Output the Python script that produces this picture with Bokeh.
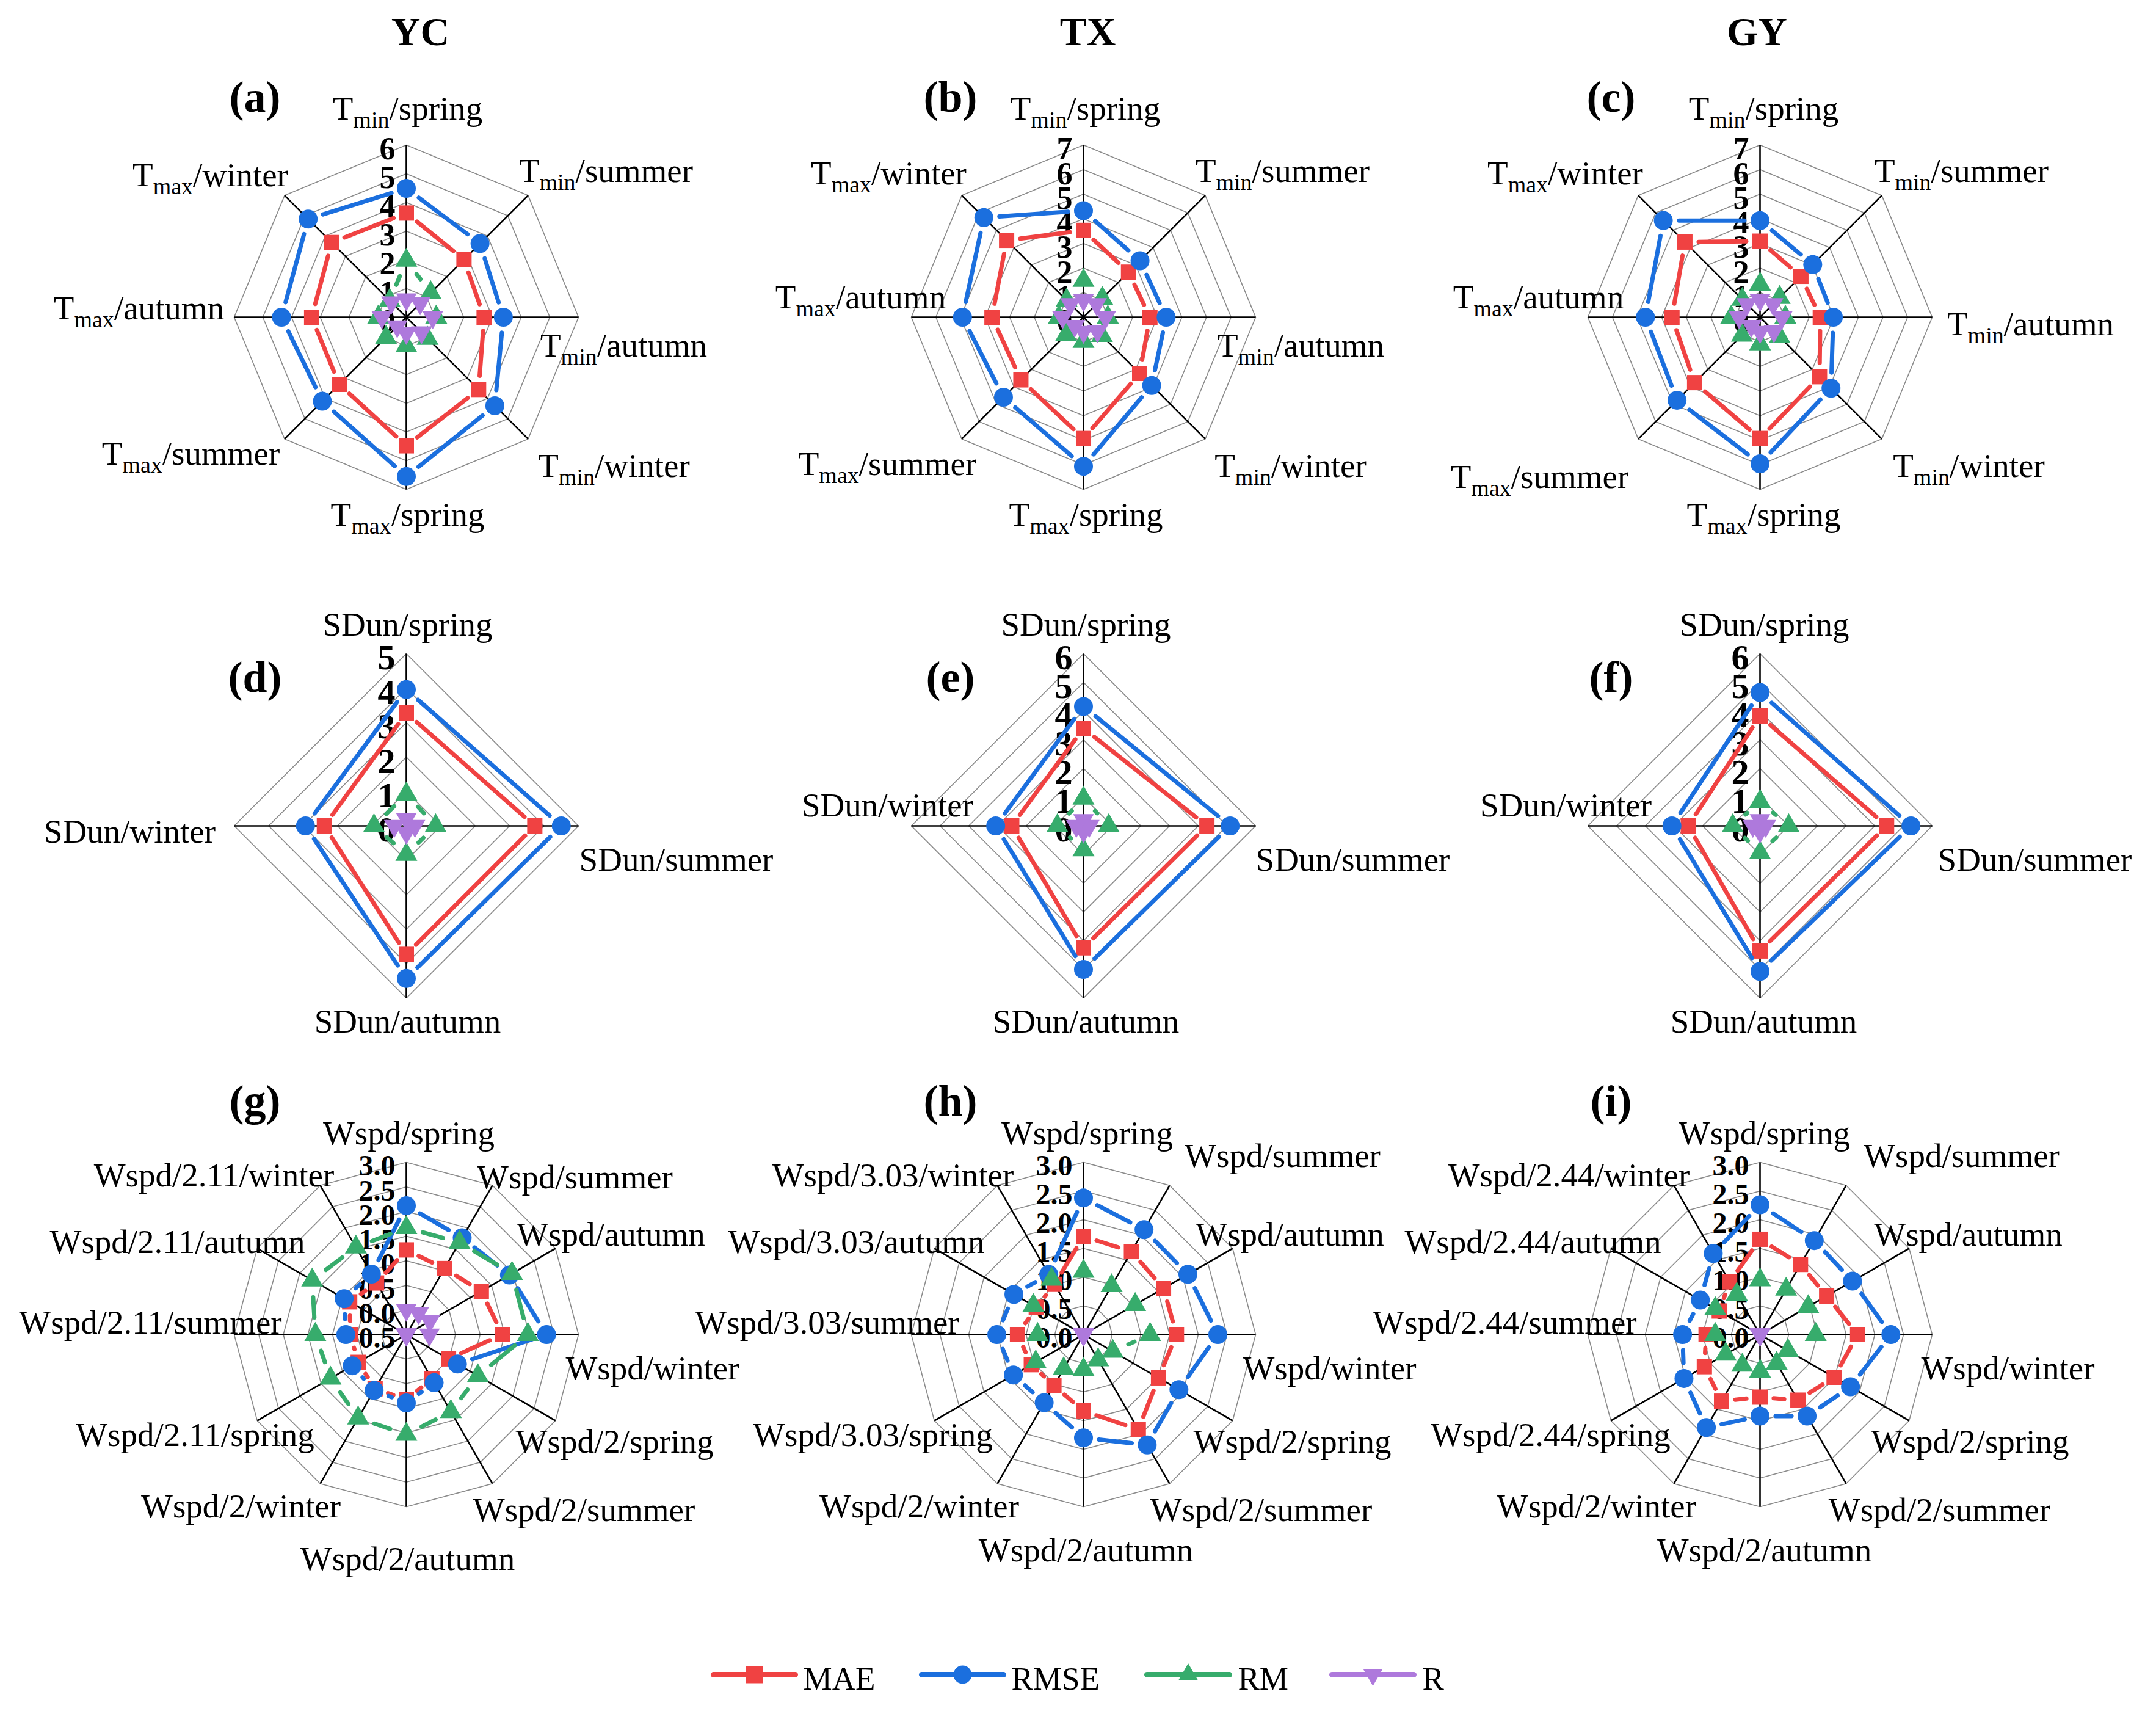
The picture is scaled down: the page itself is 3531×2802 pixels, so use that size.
import math
import numpy as np
from bokeh.plotting import figure
from bokeh.models import Range1d
from bokeh.core.properties import value
from bokeh.embed import file_html
from bokeh.resources import INLINE

# ------------------------------------------------------------------ data
SERIES = ["MAE", "RMSE", "RM", "R"]
SITES = ["YC", "TX", "GY"]
LETTERS = ["(a)", "(b)", "(c)", "(d)", "(e)", "(f)", "(g)", "(h)", "(i)"]

T_CATS = ["Tmin/spring", "Tmin/summer", "Tmin/autumn", "Tmin/winter",
          "Tmax/spring", "Tmax/summer", "Tmax/autumn", "Tmax/winter"]
SD_CATS = ["SDun/spring", "SDun/summer", "SDun/autumn", "SDun/winter"]
W_CATS_YC = ["Wspd/spring", "Wspd/summer", "Wspd/autumn", "Wspd/winter",
             "Wspd/2/spring", "Wspd/2/summer", "Wspd/2/autumn", "Wspd/2/winter",
             "Wspd/2.11/spring", "Wspd/2.11/summer", "Wspd/2.11/autumn", "Wspd/2.11/winter"]
W_CATS_TX = ["Wspd/spring", "Wspd/summer", "Wspd/autumn", "Wspd/winter",
             "Wspd/2/spring", "Wspd/2/summer", "Wspd/2/autumn", "Wspd/2/winter",
             "Wspd/3.03/spring", "Wspd/3.03/summer", "Wspd/3.03/autumn", "Wspd/3.03/winter"]
W_CATS_GY = ["Wspd/spring", "Wspd/summer", "Wspd/autumn", "Wspd/winter",
             "Wspd/2/spring", "Wspd/2/summer", "Wspd/2/autumn", "Wspd/2/winter",
             "Wspd/2.44/spring", "Wspd/2.44/summer", "Wspd/2.44/autumn", "Wspd/2.44/winter"]

# (a) YC temperature
YC_T_MAE = [3.63, 2.84, 2.71, 3.56, 4.48, 3.31, 3.30, 3.68]
YC_T_RMSE = [4.49, 3.63, 3.38, 4.36, 5.55, 4.14, 4.35, 4.84]
YC_T_RM = [1.98, 1.20, 1.04, 1.05, 1.00, 1.00, 0.98, 0.82]
YC_T_R = [0.62, 0.68, 0.92, 0.75, 0.55, 0.45, 0.85, 0.73]
# (b) TX temperature
TX_T_MAE = [3.53, 2.59, 2.70, 3.23, 4.93, 3.60, 3.72, 4.42]
TX_T_RMSE = [4.33, 3.25, 3.36, 3.92, 6.06, 4.60, 4.92, 5.73]
TX_T_RM = [1.49, 1.08, 0.99, 1.06, 0.99, 1.00, 1.00, 0.97]
TX_T_R = [0.70, 0.75, 0.90, 0.80, 0.60, 0.50, 0.85, 0.75]
# (c) GY temperature
GY_T_MAE = [3.09, 2.35, 2.45, 3.42, 4.93, 3.76, 3.58, 4.32]
GY_T_RMSE = [3.93, 3.03, 2.98, 4.08, 5.96, 4.77, 4.66, 5.56]
GY_T_RM = [1.34, 1.13, 1.03, 1.13, 1.09, 1.04, 1.17, 1.02]
GY_T_R = [0.70, 0.75, 0.90, 0.80, 0.60, 0.50, 0.85, 0.75]
# (d)-(f) sunshine duration
YC_SD_MAE = [3.28, 3.73, 3.73, 2.38]
YC_SD_RMSE = [3.96, 4.50, 4.43, 2.93]
YC_SD_RM = [0.92, 0.85, 0.83, 0.94]
YC_SD_R = [0.20, 0.25, 0.20, 0.35]
TX_SD_MAE = [3.40, 4.30, 4.25, 2.50]
TX_SD_RMSE = [4.16, 5.11, 5.00, 3.06]
TX_SD_RM = [0.96, 0.88, 0.84, 0.91]
TX_SD_R = [0.20, 0.20, 0.20, 0.25]
GY_SD_MAE = [3.83, 4.41, 4.36, 2.50]
GY_SD_RMSE = [4.65, 5.26, 5.07, 3.07]
GY_SD_RM = [0.85, 1.00, 0.94, 0.95]
GY_SD_R = [0.20, 0.20, 0.20, 0.25]
# (g)-(i) wind speed
YC_W_MAE = [1.22, 1.05, 1.26, 1.45, 0.49, 0.54, 0.82, 0.77, 0.63, 0.64, 0.83, 0.71]
YC_W_RMSE = [2.12, 1.77, 1.92, 2.35, 0.70, 0.63, 0.89, 0.81, 0.77, 0.73, 0.96, 0.92]
YC_W_RM = [1.67, 1.66, 1.98, 1.97, 1.18, 1.31, 1.53, 1.46, 1.28, 1.35, 1.71, 1.55]
YC_W_R = [0.00, 0.00, 0.05, -0.03, -0.5, -0.5, -0.5, -0.5, -0.5, -0.5, -0.5, -0.5]
TX_W_MAE = [1.71, 1.67, 1.61, 1.62, 1.51, 1.91, 1.33, 1.03, 1.05, 1.15, 0.95, 1.01]
TX_W_RMSE = [2.38, 2.11, 2.10, 2.34, 1.92, 2.22, 1.80, 1.37, 1.41, 1.51, 1.40, 1.21]
TX_W_RM = [1.10, 0.98, 1.04, 1.16, 0.59, 0.51, 0.61, 0.69, 0.96, 0.80, 1.01, 1.11]
TX_W_R = [0.0, 0.0, 0.0, 0.0, 0.0, 0.0, 0.0, 0.0, 0.0, 0.0, 0.0, 0.0]
GY_W_MAE = [1.66, 1.41, 1.34, 1.70, 1.49, 1.32, 1.09, 1.34, 1.12, 0.94, 0.82, 1.06]
GY_W_RMSE = [2.26, 1.89, 1.86, 2.28, 1.82, 1.64, 1.42, 1.87, 1.53, 1.35, 1.20, 1.63]
GY_W_RM = [0.95, 0.91, 0.97, 0.97, 0.56, 0.58, 0.64, 0.62, 0.69, 0.78, 0.90, 0.81]
GY_W_R = [0.0, 0.0, 0.0, 0.0, 0.0, 0.0, 0.0, 0.0, 0.0, 0.0, 0.0, 0.0]

# radial axis definitions: (min, max, step, label format)
AX_T6 = (0, 6, 1, "{:.0f}")
AX_T7 = (0, 7, 1, "{:.0f}")
AX_S5 = (0, 5, 1, "{:.0f}")
AX_S6 = (0, 6, 1, "{:.0f}")
AX_WN = (-0.5, 3.0, 0.5, "{:.1f}")
AX_W0 = (0.0, 3.0, 0.5, "{:.1f}")

PANELS = [
    (T_CATS, [YC_T_MAE, YC_T_RMSE, YC_T_RM, YC_T_R], AX_T6),
    (T_CATS, [TX_T_MAE, TX_T_RMSE, TX_T_RM, TX_T_R], AX_T7),
    (T_CATS, [GY_T_MAE, GY_T_RMSE, GY_T_RM, GY_T_R], AX_T7),
    (SD_CATS, [YC_SD_MAE, YC_SD_RMSE, YC_SD_RM, YC_SD_R], AX_S5),
    (SD_CATS, [TX_SD_MAE, TX_SD_RMSE, TX_SD_RM, TX_SD_R], AX_S6),
    (SD_CATS, [GY_SD_MAE, GY_SD_RMSE, GY_SD_RM, GY_SD_R], AX_S6),
    (W_CATS_YC, [YC_W_MAE, YC_W_RMSE, YC_W_RM, YC_W_R], AX_WN),
    (W_CATS_TX, [TX_W_MAE, TX_W_RMSE, TX_W_RM, TX_W_R], AX_W0),
    (W_CATS_GY, [GY_W_MAE, GY_W_RMSE, GY_W_RM, GY_W_R], AX_W0),
]

# ------------------------------------------------------------------ layout / style
OFF = 8
W, H = 3513, 2784
CX = [673, 1782, 2890]          # panel centres (screen px)
CY = [527, 1360, 2193]
RADIUS = 282                    # outer ring radius (px)
BASE_FIX = 0.22                 # em shift to put the glyph baseline where intended

# category label placement: (dx of text centre, dy of baseline) from panel centre, px
LABEL_OFFSETS = [
    [(2, -330), (327, -228), (356, 58), (340, 255), (2, 335), (-353, 235), (-438, -3), (-321, -221)],
    [(3, -330), (326, -228), (356, 58), (339, 255), (4, 335), (-321, 252), (-365, -21), (-319, -224)],
    [(6, -330), (330, -228), (443, 23), (342, 255), (6, 335), (-361, 273), (-363, -21), (-319, -224)],
    [(2, -318), (442, 67), (2, 332), (-453, 21)],
    [(4, -318), (441, 67), (4, 332), (-321, -22)],
    [(7, -318), (450, 67), (6, 332), (-318, -22)],
    [(4, -318), (276, -246), (335, -152), (403, 67), (341, 187), (291, 299), (2, 379),
     (-271, 293), (-346, 176), (-419, -8), (-375, -140), (-315, -249)],
    [(6, -318), (326, -281), (338, -152), (403, 67), (342, 187), (291, 299), (4, 365),
     (-269, 293), (-345, 176), (-420, -8), (-372, -140), (-312, -249)],
    [(7, -318), (330, -281), (341, -152), (406, 67), (344, 187), (294, 299), (7, 365),
     (-268, 293), (-343, 176), (-418, -8), (-372, -140), (-313, -249)],
]
LETTER_X = [425, 1564, 2646]
LETTER_BASE = [182, 1132, 1826]
TITLE_X = [696, 1789, 2885]
TITLE_BASE = 74
TICK_SIZES = [52, 58, 48]       # per row

STYLE = {
    "MAE": dict(color="#F04242", marker="square", size=25),
    "RMSE": dict(color="#1B6FDE", marker="circle", size=31),
    "RM": dict(color="#37AC6C", marker="triangle", size=36),
    "R": dict(color="#AE79DC", marker="inverted_triangle", size=34),
}
LINE_W = 7
FONT = value("Liberation Serif")
LAB_SIZE = 55
SUB_SIZE = 38
SUB_SHIFT = 15

# Times / Liberation Serif advance widths (em)
TW = {'T': 0.611, 'm': 0.778, 'i': 0.278, 'n': 0.5, 'a': 0.444, 'x': 0.5, '/': 0.278,
      's': 0.389, 'p': 0.5, 'r': 0.333, 'g': 0.5, 'u': 0.5, 'e': 0.444, 'w': 0.722, 't': 0.278}


def tw(s):
    return sum(TW.get(c, 0.5) for c in s)


p = figure(width=W, height=H, x_range=Range1d(0, W), y_range=Range1d(H, 0),
           output_backend="svg", toolbar_location=None,
           x_axis_location=None, y_axis_location=None, min_border=0, title=None)
p.grid.visible = False
p.outline_line_color = None
p.background_fill_color = "white"
p.border_fill_color = "white"

xr, yr = {}, {}
for idx in range(9):
    row, col = divmod(idx, 3)
    vmin, vmax, step, fmt = PANELS[idx][2]
    k = (vmax - vmin) / RADIUS
    cx = CX[col] - OFF
    cy = CY[row] - OFF
    xr[f"p{idx}"] = Range1d(-cx * k, (W - cx) * k)
    yr[f"p{idx}"] = Range1d(-(H - cy) * k, cy * k)
p.extra_x_ranges = xr
p.extra_y_ranges = yr

main_txt = dict(x=[], y=[], text=[], align=[])
sub_txt = dict(x=[], y=[], text=[])

for idx in range(9):
    row, col = divmod(idx, 3)
    cats, vals, (vmin, vmax, step, fmt) = PANELS[idx]
    name = f"p{idx}"
    kw = dict(x_range_name=name, y_range_name=name)
    k = (vmax - vmin) / RADIUS
    n = len(cats)
    th = np.arange(n) * 2 * np.pi / n
    sx, sy = np.sin(th), np.cos(th)
    ticks = [vmin + i * step for i in range(int(round((vmax - vmin) / step)) + 1)]

    # rings
    rx, ry = [], []
    for t in ticks[1:]:
        r = t - vmin
        rx.append(list(r * sx) + [r * sx[0]])
        ry.append(list(r * sy) + [r * sy[0]])
    p.multi_line(xs=rx, ys=ry, line_color="#8a8a8a", line_width=1.6, **kw)
    # spokes
    D = vmax - vmin
    p.segment(x0=[0] * n, y0=[0] * n, x1=list(D * sx), y1=list(D * sy),
              line_color="black", line_width=2.6, **kw)
    # radial tick labels
    ts = TICK_SIZES[row]
    p.text(x=[-18 * k] * len(ticks),
           y=[t - vmin - (0.34 - BASE_FIX) * ts * k for t in ticks],
           text=[fmt.format(t) for t in ticks], text_align="right", text_baseline="alphabetic",
           text_font=FONT, text_font_style="bold", text_font_size=value(f"{ts}px"),
           text_color="black", **kw)

    # series
    for sname, v in zip(SERIES, vals):
        st = STYLE[sname]
        r = np.array(v, dtype=float) - vmin
        x, y = r * sx, r * sy
        trim = (st["size"] / 2 + 10) * k
        x0, y0, x1, y1 = [], [], [], []
        for i in range(n):
            j = (i + 1) % n
            dx, dy = x[j] - x[i], y[j] - y[i]
            L = math.hypot(dx, dy)
            if L > 2 * trim + 2 * k:
                ux, uy = dx / L, dy / L
                x0.append(x[i] + ux * trim)
                y0.append(y[i] + uy * trim)
                x1.append(x[j] - ux * trim)
                y1.append(y[j] - uy * trim)
        if x0:
            p.segment(x0=x0, y0=y0, x1=x1, y1=y1, line_color=st["color"],
                      line_width=LINE_W, line_cap="round", **kw)
        p.scatter(x=list(x), y=list(y), marker=st["marker"], size=st["size"],
                  fill_color=st["color"], line_color=None, **kw)

    # category labels (page coords)
    pcx, pcy = CX[col] - OFF, CY[row] - OFF
    for cat, (dx, dy) in zip(cats, LABEL_OFFSETS[idx]):
        bx, by = pcx + dx, pcy + dy - BASE_FIX * LAB_SIZE
        if cat.startswith("Tmin") or cat.startswith("Tmax"):
            sub, rest = cat[1:4], cat[4:]
            total = LAB_SIZE * tw("T") + SUB_SIZE * tw(sub) + LAB_SIZE * tw(rest)
            x0 = bx - total / 2
            main_txt["x"].append(x0); main_txt["y"].append(by)
            main_txt["text"].append("T"); main_txt["align"].append("left")
            xs = x0 + LAB_SIZE * tw("T")
            sub_txt["x"].append(xs)
            sub_txt["y"].append(by + SUB_SHIFT + BASE_FIX * (LAB_SIZE - SUB_SIZE))
            sub_txt["text"].append(sub)
            xr2 = xs + SUB_SIZE * tw(sub)
            main_txt["x"].append(xr2); main_txt["y"].append(by)
            main_txt["text"].append(rest); main_txt["align"].append("left")
        else:
            main_txt["x"].append(bx); main_txt["y"].append(by)
            main_txt["text"].append(cat); main_txt["align"].append("center")

p.text(x="x", y="y", text="text", text_align="align", source=main_txt,
       text_baseline="alphabetic", text_font=FONT, text_font_size=value(f"{LAB_SIZE}px"),
       text_color="black")
p.text(x="x", y="y", text="text", source=sub_txt, text_align="left",
       text_baseline="alphabetic", text_font=FONT, text_font_size=value(f"{SUB_SIZE}px"),
       text_color="black")

# panel letters
p.text(x=[LETTER_X[i % 3] - OFF for i in range(9)],
       y=[LETTER_BASE[i // 3] - OFF - BASE_FIX * 72 for i in range(9)],
       text=LETTERS, text_align="center", text_baseline="alphabetic", text_font=FONT,
       text_font_style="bold", text_font_size=value("72px"), text_color="black")
# column titles
p.text(x=[t - OFF for t in TITLE_X], y=[TITLE_BASE - OFF - BASE_FIX * 66] * 3, text=SITES,
       text_align="center", text_baseline="alphabetic", text_font=FONT, text_font_style="bold",
       text_font_size=value("66px"), text_color="black")

# legend
LEG_LINE = [(1176, 1310), (1517, 1651), (1886, 2021), (2189, 2323)]
LEG_TEXT_X = [1323, 1664, 2035, 2337]
LEG_Y = 2750
LEG_SIZES = {"MAE": 28, "RMSE": 30, "RM": 32, "R": 32}
for sname, (a, b), tx in zip(SERIES, LEG_LINE, LEG_TEXT_X):
    st = STYLE[sname]
    p.segment(x0=[a - OFF], y0=[LEG_Y - OFF], x1=[b - OFF], y1=[LEG_Y - OFF],
              line_color=st["color"], line_width=9, line_cap="round")
    p.scatter(x=[(a + b) / 2 - OFF], y=[LEG_Y - OFF], marker=st["marker"], size=LEG_SIZES[sname],
              fill_color=st["color"], line_color=None)
    p.text(x=[tx - OFF], y=[2768 - OFF - BASE_FIX * 53], text=[sname], text_align="left",
           text_baseline="alphabetic", text_font=FONT, text_font_size=value("53px"),
           text_color="black")

open("out.html", "w").write(file_html(p, INLINE))
